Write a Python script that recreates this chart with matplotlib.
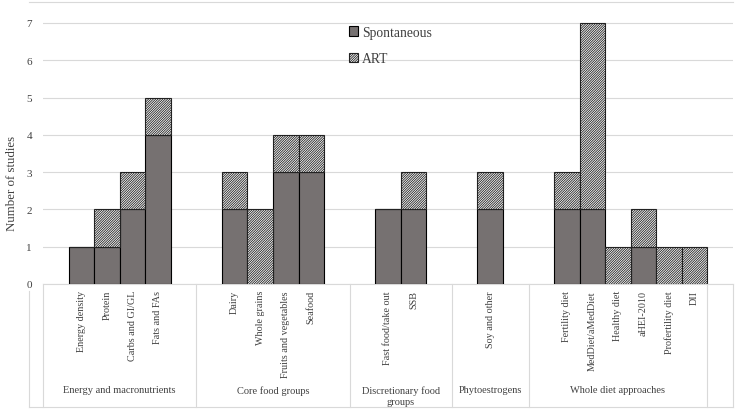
import matplotlib
matplotlib.use("Agg")
import matplotlib.pyplot as plt
from matplotlib.transforms import blended_transform_factory
from matplotlib.lines import Line2D
from matplotlib.patches import Patch

plt.rcParams["font.family"] = ["Liberation Serif", "DejaVu Serif"]
plt.rcParams["hatch.linewidth"] = 0.6

# Veriler
groups = ["Energy and macronutrients", "Core food groups", "Discretionary food\ngroups",
          "Phytoestrogens", "Whole diet approaches"]
group_sizes = [4, 4, 2, 1, 6]
categories = ["Energy density", "Protein", "Carbs and GI/GL", "Fats and FAs",
              "Dairy", "Whole grains", "Fruits and vegetables", "Seafood",
              "Fast food/take out", "SSB",
              "Soy and other",
              "Fertility diet", "MedDiet/aMedDiet", "Healthy diet", "aHEI-2010",
              "Profertility diet", "DII"]
spontaneous = [1, 1, 2, 4, 2, 0, 3, 3, 2, 2, 2, 2, 2, 0, 1, 0, 0]
art = [0, 1, 1, 1, 1, 2, 1, 1, 0, 1, 1, 1, 5, 1, 1, 1, 1]

GRAY = "#767171"
LINE = "#d9d9d9"
TXT = "#404040"
HATCH = "/" * 14

# Kategori konumlari (grup basina bos slotlar)
pos = []
bounds = [0]
start = 0
for i, n in enumerate(group_sizes):
    pos += [start + 1 + k for k in range(n)]
    end = start + n + (1 if i == len(group_sizes) - 1 else 2)
    bounds.append(end)
    start = end
n_slots = bounds[-1] + 1

fig = plt.figure(figsize=(7.4, 4.1), dpi=100)
ax = fig.add_axes([43 / 740, 125 / 410, 690 / 740, 282 / 410])

ax.bar(pos, spontaneous, width=1, align="edge", color=GRAY, edgecolor="black", linewidth=0.8,
       label="Spontaneous", zorder=3)
ax.bar(pos, art, width=1, align="edge", bottom=spontaneous, color="white", edgecolor="#222222",
       hatch=HATCH, linewidth=0.8, label="ART", zorder=3)

ax.set_xlim(0, n_slots)
ax.set_ylim(0, 282 / 37.29)
ax.set_yticks(range(0, 8))
ax.yaxis.grid(True, color=LINE, linewidth=0.8, zorder=0)
ax.set_xticks([])
ax.tick_params(axis="y", length=0, pad=8, labelsize=8, labelcolor=TXT)
for s in ["top", "right", "left"]:
    ax.spines[s].set_visible(False)
ax.spines["bottom"].set_color(LINE)
ax.set_ylabel("Number of studies", fontsize=9.3, color=TXT)
ax.yaxis.set_label_coords(-0.036, 0.36)

# Alt eksen etiketleri
tr = blended_transform_factory(ax.transData, fig.transFigure)
for p, c in zip(pos, categories):
    ax.text(p + 0.5, 0.29, c, transform=tr, rotation=90, ha="center", va="top", fontsize=7.3,
            color=TXT)
for i, g in enumerate(groups):
    mid = (bounds[i] + bounds[i + 1]) / 2
    ax.text(mid, 0.058, g, transform=tr, ha="center", va="top", fontsize=7.5, color=TXT,
            linespacing=1.3)
for b in bounds + [n_slots]:
    fig.add_artist(Line2D([b, b], [0.305, 0.005], transform=tr, color=LINE, linewidth=0.8))

# Dis cerceve
fig.add_artist(Line2D([29 / 740, 733 / 740], [407 / 410, 407 / 410], color=LINE, linewidth=0.8))
fig.add_artist(Line2D([29 / 740, 733 / 740], [0.005, 0.005], color=LINE, linewidth=0.8))
fig.add_artist(Line2D([29 / 740, 29 / 740], [0.005, 118 / 410], color=LINE, linewidth=0.8))

handles = [Patch(facecolor=GRAY, edgecolor="black", linewidth=0.8),
           Patch(facecolor="white", edgecolor="#222222", hatch=HATCH, linewidth=0.8)]
fig.legend(handles, ["Spontaneous", "ART"], loc="upper left", bbox_to_anchor=(342 / 740, 1 - 20 / 410),
           frameon=False, fontsize=9.8, handlelength=0.7, handleheight=0.7, handletextpad=0.25,
           labelspacing=1.0, borderpad=0, labelcolor=TXT)

plt.savefig("out.png", dpi=100)
plt.close()
